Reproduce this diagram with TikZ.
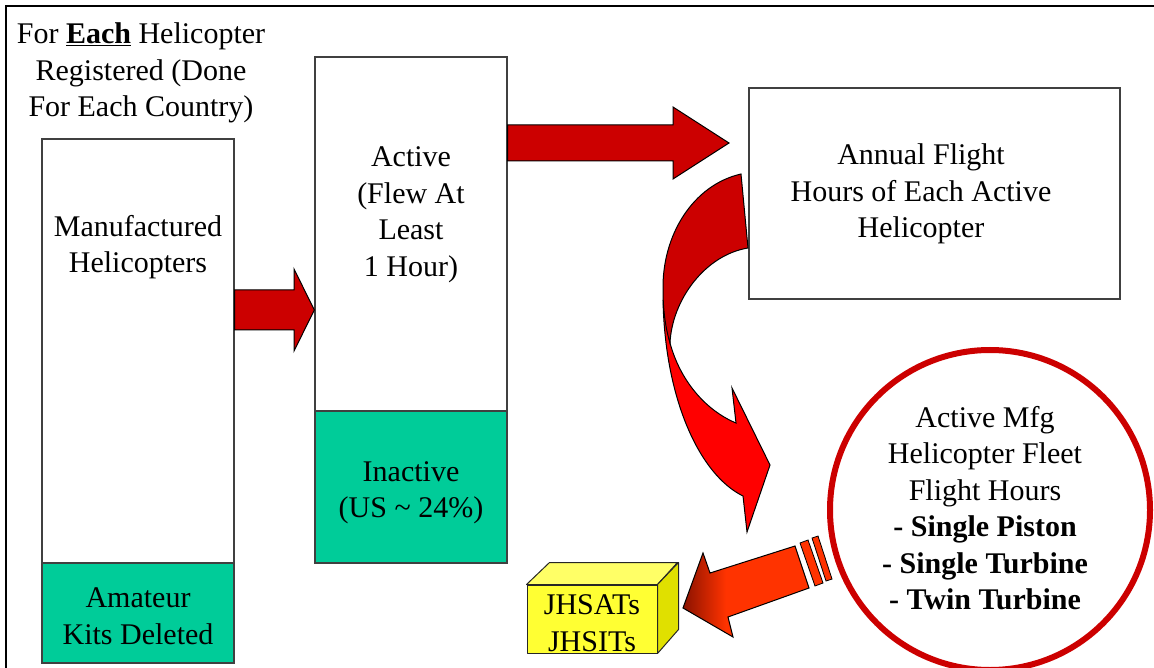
\documentclass[tikz,border=0pt]{standalone}
\usepackage{fontspec}
\setmainfont{Liberation Serif}
\definecolor{panelgreen}{HTML}{00CC99}
\definecolor{arrowdark}{HTML}{CC0000}
\definecolor{arrowbright}{HTML}{FF0000}
\definecolor{flame}{HTML}{FF3300}
\definecolor{ember}{HTML}{8A1200}
\definecolor{cubefront}{HTML}{FFFF33}
\definecolor{cubetop}{HTML}{FFFF66}
\definecolor{cubeside}{HTML}{E0E000}
% dark tip fading quickly into the bright body of the arrow
\pgfdeclarehorizontalshading{emberflame}{100bp}{color(0bp)=(ember); color(25bp)=(ember); color(42bp)=(flame); color(100bp)=(flame)}
\begin{document}
\begin{tikzpicture}[x=1pt,y=-1pt,
  panel/.style={draw=black!75, line width=1.3pt, fill=white, minimum width=192pt, inner sep=0pt},
  greenpanel/.style={panel, fill=panelgreen},
  txt/.style={align=center, font=\fontsize{30}{36.5}\selectfont, inner sep=0pt},
  blockarrow/.style={draw=black, line width=1pt, fill=arrowdark, line join=miter},
  cubeface/.style={draw=black!85, line width=1pt, line join=round}]
\useasboundingbox (0,0) rectangle (1154,668);
\clip (0,0) rectangle (1154,668);

% frame
\draw[line width=2pt] (5.7,670) -- (5.7,6) -- (1156,6);

% heading
\node[txt] (title) at (141,73) {For \underline{\textbf{Each}} Helicopter\\Registered (Done\\For Each Country)};

% manufactured column
\node[panel, minimum height=524pt] (mfg) at (138,401) {};
\node[greenpanel, minimum height=100pt] (kits) at (138,613) {};
\node[txt] (mfgtext) at (138,247) {Manufactured\\Helicopters};
\node[txt] (kitstext) at (138,616) {Amateur\\Kits Deleted};

% active column
\node[panel, minimum height=506pt] (act) at (411,310) {};
\node[greenpanel, minimum height=152pt] (inact) at (411,487) {};
\node[txt] (acttext) at (411,215) {Active\\(Flew At\\Least\\1 Hour)};
\node[txt] (inacttext) at (411,493) {Inactive\\(US \textasciitilde{} 24\%)};

% annual hours box
\node[panel, minimum width=371pt, minimum height=211pt] (ann) at (934.5,193.5) {};
\node[txt] (anntext) at (921,194) {Annual Flight\\Hours of Each Active\\Helicopter};

% fleet circle
\node[circle, draw=arrowdark, line width=6pt, minimum size=320pt, inner sep=0pt] (fleet) at (990,510) {};
\node[txt] (fleettext) at (985,508) {Active Mfg\\Helicopter Fleet\\Flight Hours\\\textbf{- Single Piston}\\\textbf{- Single Turbine}\\\textbf{- Twin Turbine}};

% yellow cube
\node[cubeface, fill=cubefront, minimum width=130pt, minimum height=68pt, inner sep=0pt] (jh) at (592,619) {};
\draw[cubeface, fill=cubetop] (jh.north west) -- ++(23,-22) -- ++(128,0) -- (jh.north east) -- cycle;
\draw[cubeface, fill=cubeside] (jh.north east) -- ++(21,-22) -- ++(0,67) -- (jh.south east) -- cycle;
\node[txt] (jhtext) at (592,623) {JHSATs\\JHSITs};

% straight block arrows
\draw[blockarrow] (mfg.east |- 0,290) -- (294,290) -- (294,269) -- (act.west |- 0,310) -- (294,351) -- (294,330) -- (mfg.east |- 0,330) -- cycle;
\draw[blockarrow] (act.east |- 0,125) -- (673,125) -- (673,107) -- (729,143) -- (673,179) -- (673,161) -- (act.east |- 0,161) -- cycle;

% curved arrow from the annual box down to the circle
\draw[blockarrow, fill=arrowbright] (663,300) .. controls (665,400) and (700,475) .. (743,496)
  -- (747,532) -- (770,465) -- (732,388) -- (736,423)
  .. controls (705,410) and (680,380) .. (670,343) -- cycle;
\draw[blockarrow] (741,174) .. controls (693,185) and (662,235) .. (663,290)
  .. controls (663,312) and (666,330) .. (670,343)
  .. controls (672,300) and (705,255) .. (748,248) -- cycle;

% shaded arrow from the circle to the cube
\shadedraw[draw=black, line width=1pt, line join=miter, shading=emberflame]
  (795,546) -- (710,573) -- (703,553) -- (683,608) -- (733,637) -- (728,617) -- (809,588) -- cycle;
\draw[draw=black, line width=0.8pt, fill=flame] (800,543) -- (808,540) -- (823,583) -- (815,586) -- cycle;
\draw[draw=black, line width=0.8pt, fill=flame] (812,538) -- (818,536) -- (832,579) -- (826,581) -- cycle;
\end{tikzpicture}
\end{document}
